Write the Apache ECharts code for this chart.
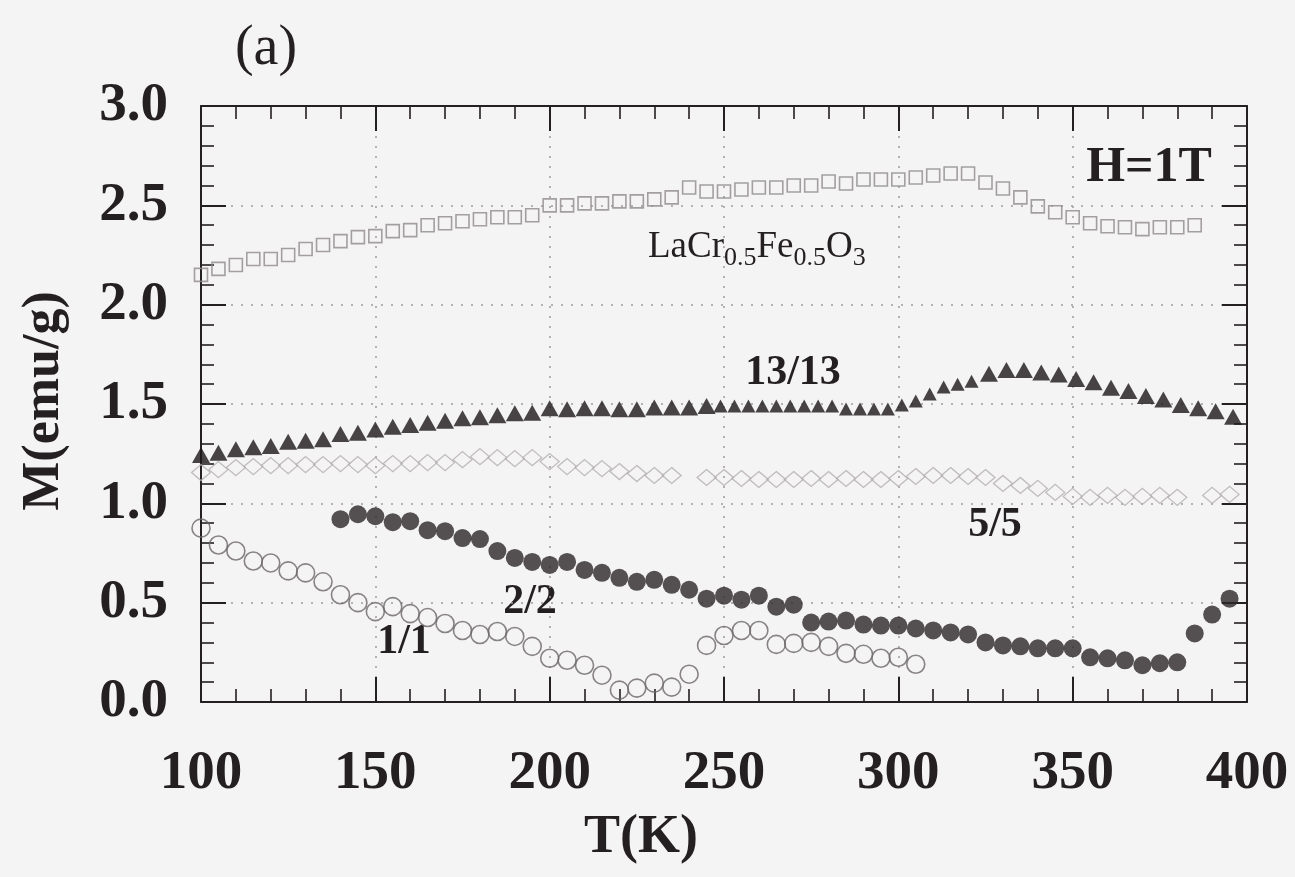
<!DOCTYPE html>
<html>
<head>
<meta charset="utf-8">
<script src="https://cdn.jsdelivr.net/npm/echarts@6/dist/echarts.min.js"></script>
<style>
  html, body { margin: 0; padding: 0; background: #f5f4f5; }
  #chart { width: 1295px; height: 877px; }
</style>
</head>
<body>
<div id="chart"></div>
<script>
// Magnetization M (emu/g) versus temperature T (K), field H = 1 T

// LaCr0.5Fe0.5O3 solid solution (open squares)
const tempSolid = [100, 105, 110, 115, 120, 125, 130, 135, 140, 145, 150, 155, 160, 165, 170, 175, 180, 185, 190, 195,
  200, 205, 210, 215, 220, 225, 230, 235, 240, 245, 250, 255, 260, 265, 270, 275, 280, 285, 290, 295,
  300, 305, 310, 315, 320, 325, 330, 335, 340, 345, 350, 355, 360, 365, 370, 375, 380, 385];
const magSolid = [2.15, 2.18, 2.20, 2.23, 2.23, 2.25, 2.28, 2.30, 2.32, 2.34, 2.345, 2.37, 2.375, 2.40, 2.41, 2.42, 2.43, 2.44, 2.44, 2.45,
  2.50, 2.50, 2.51, 2.51, 2.52, 2.52, 2.53, 2.54, 2.59, 2.57, 2.57, 2.58, 2.59, 2.59, 2.60, 2.60, 2.62, 2.61, 2.63, 2.63,
  2.63, 2.64, 2.65, 2.66, 2.66, 2.615, 2.585, 2.54, 2.495, 2.465, 2.44, 2.41, 2.395, 2.39, 2.38, 2.39, 2.39, 2.40];

// 13/13 superlattice (filled triangles)
const temp1313 = [100, 105, 110, 115, 120, 125, 130, 135, 140, 145, 150, 155, 160, 165, 170, 175, 180, 185, 190, 195,
  200, 205, 210, 215, 220, 225, 230, 235, 240, 245,
  249, 253, 257, 261, 265, 269, 273, 277, 281, 285, 289, 293, 297, 301, 305, 309, 313, 317, 321,
  326, 331, 336, 341, 346, 351, 356, 361, 366, 371, 376, 381, 386, 391, 396];
const mag1313 = [1.243, 1.255, 1.272, 1.282, 1.288, 1.31, 1.315, 1.322, 1.349, 1.355, 1.372, 1.386, 1.394, 1.406, 1.416, 1.428, 1.433, 1.444, 1.453, 1.456,
  1.478, 1.473, 1.478, 1.478, 1.473, 1.473, 1.483, 1.483, 1.483, 1.49,
  1.49, 1.49, 1.49, 1.49, 1.49, 1.49, 1.49, 1.49, 1.49, 1.475, 1.475, 1.475, 1.475, 1.495, 1.515, 1.55, 1.585, 1.60, 1.615,
  1.652, 1.671, 1.671, 1.659, 1.649, 1.626, 1.609, 1.582, 1.565, 1.54, 1.523, 1.495, 1.478, 1.464, 1.436];

// 5/5 superlattice (open diamonds)
const temp55 = [100, 105, 110, 115, 120, 125, 130, 135, 140, 145, 150, 155, 160, 165, 170, 175, 180, 185, 190, 195,
  200, 205, 210, 215, 220, 225, 230, 235,
  245, 250, 255, 260, 265, 270, 275, 280, 285, 290, 295, 300, 305, 310, 315, 320, 325, 330, 335, 340, 345, 350,
  355, 360, 365, 370, 375, 380, 390, 395];
const mag55 = [1.155, 1.17, 1.18, 1.185, 1.19, 1.19, 1.195, 1.195, 1.20, 1.195, 1.19, 1.20, 1.20, 1.205, 1.205, 1.22, 1.235, 1.23, 1.225, 1.23,
  1.21, 1.185, 1.18, 1.175, 1.16, 1.15, 1.14, 1.14,
  1.13, 1.13, 1.125, 1.12, 1.12, 1.12, 1.125, 1.12, 1.125, 1.12, 1.12, 1.125, 1.135, 1.14, 1.14, 1.135, 1.13, 1.10, 1.09, 1.075, 1.055, 1.035,
  1.03, 1.04, 1.03, 1.035, 1.04, 1.03, 1.04, 1.045];

// 2/2 superlattice (filled circles)
const temp22 = [140, 145, 150, 155, 160, 165, 170, 175, 180, 185, 190, 195, 200, 205, 210, 215, 220, 225, 230, 235,
  240, 245, 250, 255, 260, 265, 270, 275, 280, 285, 290, 295, 300, 305, 310, 315, 320, 325, 330, 335,
  340, 345, 350, 355, 360, 365, 370, 375, 380, 385, 390, 395];
const mag22 = [0.92, 0.945, 0.935, 0.905, 0.91, 0.865, 0.86, 0.825, 0.82, 0.76, 0.725, 0.705, 0.69, 0.705, 0.665, 0.65, 0.625, 0.605, 0.615, 0.59,
  0.565, 0.52, 0.535, 0.515, 0.535, 0.48, 0.49, 0.40, 0.405, 0.41, 0.39, 0.385, 0.385, 0.37, 0.36, 0.35, 0.34, 0.30, 0.285, 0.28,
  0.27, 0.27, 0.27, 0.225, 0.22, 0.21, 0.185, 0.195, 0.20, 0.345, 0.44, 0.52];

// 1/1 superlattice (open circles)
const temp11 = [100, 105, 110, 115, 120, 125, 130, 135, 140, 145, 150, 155, 160, 165, 170, 175, 180, 185, 190, 195,
  200, 205, 210, 215, 220, 225, 230, 235, 240, 245, 250, 255, 260, 265, 270, 275, 280, 285, 290, 295, 300, 305];
const mag11 = [0.875, 0.79, 0.76, 0.71, 0.70, 0.66, 0.65, 0.605, 0.54, 0.50, 0.455, 0.48, 0.445, 0.425, 0.395, 0.36, 0.34, 0.355, 0.33, 0.28,
  0.22, 0.21, 0.185, 0.135, 0.06, 0.07, 0.095, 0.075, 0.14, 0.285, 0.335, 0.36, 0.36, 0.29, 0.295, 0.30, 0.28, 0.245, 0.24, 0.22, 0.225, 0.19];

// Axis tick labels
const tempTicks = ['100', '150', '200', '250', '300', '350', '400'];
const magTicks = ['0.0', '0.5', '1.0', '1.5', '2.0', '2.5', '3.0'];

const INK = '#241f21';
const SERIF = '"Liberation Serif", "Times New Roman", serif';

function pairs(xs, ys) {
  return xs.map((x, i) => [x, ys[i]]);
}

const tickCommon = {
  axisLine: { show: true, onZero: false, lineStyle: { color: INK, width: 2 } },
  axisTick: { show: true, inside: true, length: 25, lineStyle: { color: INK, width: 2 } },
  minorTick: { show: true, splitNumber: 5, length: 13, lineStyle: { color: INK, width: 1.6 } },
  minorSplitLine: { show: false }
};

const dotted = { color: '#a09b9d', width: 1.5, type: [2, 8] };

const chart = echarts.init(document.getElementById('chart'), null, { renderer: 'canvas' });

chart.setOption({
  backgroundColor: '#f5f4f5',
  animation: false,
  grid: { left: 201, top: 106, right: 48, bottom: 175, containLabel: false },
  xAxis: [
    Object.assign({
      type: 'value', position: 'bottom', min: 100, max: 400, interval: 50,
      axisLabel: {
        show: true, margin: 44,
        fontFamily: SERIF, fontWeight: 'bold', fontSize: 55, color: INK,
        formatter: (v) => tempTicks[Math.round((v - 100) / 50)]
      },
      splitLine: { show: true, lineStyle: dotted }
    }, tickCommon),
    Object.assign({
      type: 'value', position: 'top', min: 100, max: 400, interval: 50,
      axisLabel: { show: false },
      splitLine: { show: false }
    }, tickCommon)
  ],
  yAxis: [
    Object.assign({
      type: 'value', position: 'left', min: 0, max: 3, interval: 0.5,
      axisLabel: {
        show: true, margin: 33,
        fontFamily: SERIF, fontWeight: 'bold', fontSize: 55, color: INK,
        formatter: (v) => magTicks[Math.round(v / 0.5)]
      },
      splitLine: { show: true, lineStyle: dotted }
    }, tickCommon),
    Object.assign({
      type: 'value', position: 'right', min: 0, max: 3, interval: 0.5,
      axisLabel: { show: false },
      splitLine: { show: false }
    }, tickCommon)
  ],
  series: [
    {
      name: 'LaCr0.5Fe0.5O3', type: 'scatter', data: pairs(tempSolid, magSolid),
      symbol: 'rect', symbolSize: 13,
      itemStyle: { color: 'rgba(0,0,0,0)', borderColor: '#8e898b', borderWidth: 1.6 }
    },
    {
      name: '5/5', type: 'scatter', data: pairs(temp55, mag55),
      symbol: 'diamond', symbolSize: [19, 16],
      itemStyle: { color: 'rgba(0,0,0,0)', borderColor: '#b3aeb0', borderWidth: 1.3 }
    },
    {
      name: '1/1', type: 'scatter', data: pairs(temp11, mag11),
      symbol: 'circle', symbolSize: 18,
      itemStyle: { color: 'rgba(0,0,0,0)', borderColor: '#6c6769', borderWidth: 1.6 }
    },
    {
      name: '2/2', type: 'scatter', data: pairs(temp22, mag22),
      symbol: 'circle', symbolSize: 18,
      itemStyle: { color: '#2c2729' }
    },
    {
      name: '13/13', type: 'scatter', data: pairs(temp1313, mag1313),
      symbol: 'triangle',
      // the densely sampled stretch uses slightly smaller markers
      symbolSize: (v) => (v[0] > 247 && v[0] < 323) ? [14, 13] : [18, 16],
      itemStyle: { color: '#1c1719' }
    }
  ],
  graphic: [
    {
      type: 'text', x: 266, y: 49,
      style: { text: '(a)', fontFamily: SERIF, fontSize: 56, fill: INK, align: 'center', verticalAlign: 'middle' }
    },
    {
      type: 'text', x: 641, y: 838,
      style: { text: 'T(K)', fontFamily: SERIF, fontWeight: 'bold', fontSize: 54, fill: INK, align: 'center', verticalAlign: 'middle' }
    },
    {
      type: 'text', x: 45, y: 401, rotation: Math.PI / 2,
      style: { text: 'M(emu/g)', fontFamily: SERIF, fontWeight: 'bold', fontSize: 52, fill: INK, align: 'center', verticalAlign: 'middle' }
    },
    {
      type: 'text', x: 1149, y: 168,
      style: { text: 'H=1T', fontFamily: SERIF, fontWeight: 'bold', fontSize: 50, fill: INK, align: 'center', verticalAlign: 'middle' }
    },
    {
      type: 'text', x: 648, y: 229,
      style: {
        text: 'LaCr{s|0.5}Fe{s|0.5}O{s|3}',
        fontFamily: SERIF, fontSize: 37, lineHeight: 36, fill: INK, align: 'left', verticalAlign: 'top',
        rich: { s: { fontFamily: SERIF, fontSize: 26, lineHeight: 25, padding: [23, 0, 0, 0], fill: INK } }
      }
    },
    {
      type: 'text', x: 793, y: 373,
      style: { text: '13/13', fontFamily: SERIF, fontWeight: 'bold', fontSize: 42, fill: INK, align: 'center', verticalAlign: 'middle' }
    },
    {
      type: 'text', x: 995, y: 525,
      style: { text: '5/5', fontFamily: SERIF, fontWeight: 'bold', fontSize: 42, fill: INK, align: 'center', verticalAlign: 'middle' }
    },
    {
      type: 'text', x: 530, y: 602,
      style: { text: '2/2', fontFamily: SERIF, fontWeight: 'bold', fontSize: 42, fill: INK, align: 'center', verticalAlign: 'middle' }
    },
    {
      type: 'text', x: 404, y: 642,
      style: { text: '1/1', fontFamily: SERIF, fontWeight: 'bold', fontSize: 42, fill: INK, align: 'center', verticalAlign: 'middle' }
    }
  ]
});
</script>
</body>
</html>
